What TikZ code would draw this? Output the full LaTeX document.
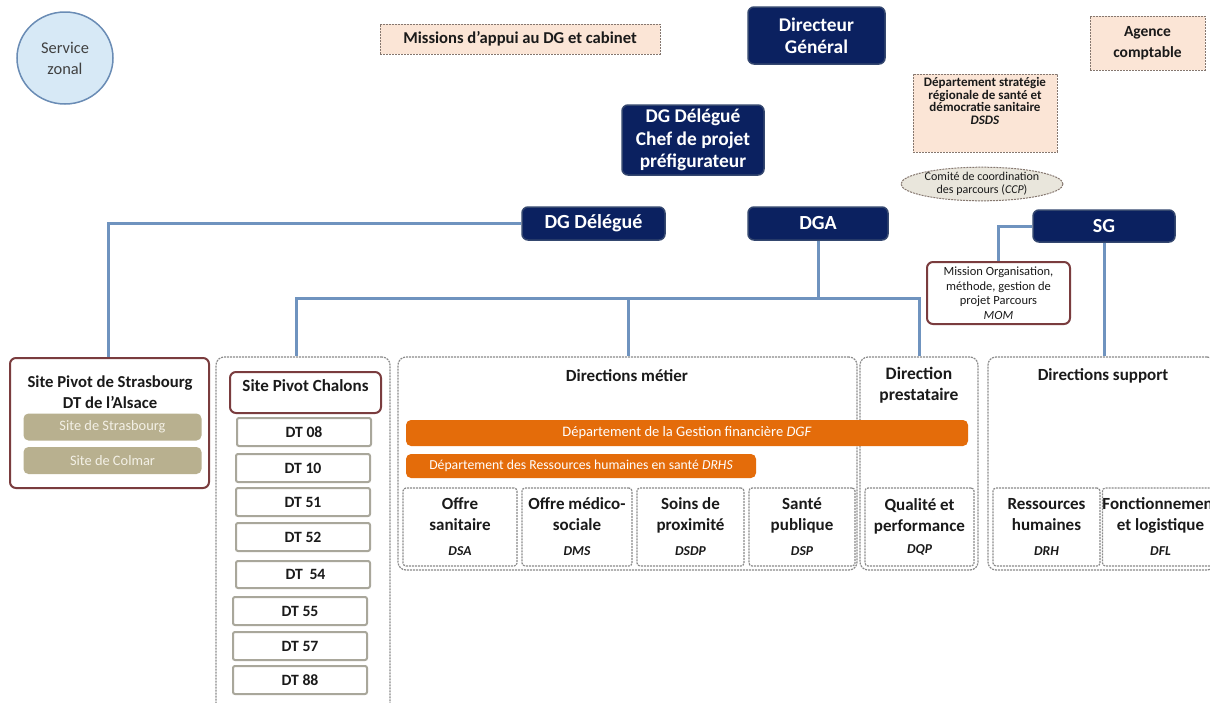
\documentclass[tikz,border=0pt]{standalone}
\usepackage{fontspec}
\setmainfont{Carlito}
\usetikzlibrary{shapes.geometric}
\definecolor{navy}{HTML}{0B2160}
\definecolor{navyb}{HTML}{34476F}
\definecolor{peach}{HTML}{FBE5D6}
\definecolor{peachb}{HTML}{85776F}
\definecolor{grayd}{HTML}{8A8A8A}
\definecolor{darkred}{HTML}{7A3C3E}
\definecolor{olivef}{HTML}{B8B08F}
\definecolor{olivet}{HTML}{F3F0E6}
\definecolor{orng}{HTML}{E46C0A}
\definecolor{dtgray}{HTML}{A9A79B}
\definecolor{connc}{HTML}{6F93BF}
\definecolor{szfill}{HTML}{D7E9F6}
\definecolor{szdraw}{HTML}{6A8CB5}
\definecolor{ccpfill}{HTML}{E9E6DC}
\definecolor{txt}{HTML}{1A1A1A}
\newcommand{\fs}[2]{\fontsize{#1}{#2}\selectfont}
\newcommand{\codetxt}[1]{{\bfseries\itshape\fs{13.6}{15}#1}}
\tikzset{
  navybox/.style={rounded corners=6pt, fill=navy, draw=navyb, line width=1.5pt, text=white, align=center, inner sep=0pt, font=\bfseries\fs{19.4}{22.5}},
  peachbox/.style={fill=peach, draw=peachb, dash pattern=on 2pt off 1pt, line width=1pt, align=center, inner sep=0pt, text=txt},
  groupbox/.style={draw=grayd, dash pattern=on 2pt off 1pt, line width=1.2pt, rounded corners=8pt, inner sep=0pt},
  subbox/.style={draw=grayd, dash pattern=on 2pt off 1pt, line width=1.2pt, rounded corners=3pt, align=center, inner sep=0pt, text=txt, font=\bfseries\fs{17}{20.5}},
  dtbox/.style={draw=dtgray, line width=2pt, rounded corners=2pt, fill=white, inner sep=0pt, text=txt, font=\bfseries\fs{15.7}{18}},
  redbox/.style={draw=darkred, line width=2pt, rounded corners=6pt, fill=white, inner sep=0pt, align=center, text=txt},
  olivebox/.style={fill=olivef, rounded corners=5pt, text=olivet, inner sep=0pt, font=\fs{14.4}{16}},
  orangebox/.style={fill=orng, rounded corners=5pt, text=white, inner sep=0pt},
  conn/.style={draw=connc, line width=3pt},
  titletext/.style={font=\bfseries\fs{17}{21}, text=txt, align=center, inner sep=0pt}
}
\begin{document}
\begin{tikzpicture}[x=1pt,y=-1pt]
\clip (0,0) rectangle (1210,702);
\fill[white] (0,0) rectangle (1210,702);

% top row
\node[ellipse, fill=szfill, draw=szdraw, line width=1.5pt, minimum width=96pt, minimum height=92pt, inner sep=0pt, align=center, text=black!75, font=\fs{16.4}{21}] (szonal) at (65,58) {Service\\zonal};
\node[peachbox, minimum width=280pt, minimum height=30pt, font=\bfseries\fs{16.6}{19}] (missions) at (520,39) {Missions d’appui au DG et cabinet};
\node[navybox, minimum width=137pt, minimum height=57pt, font=\bfseries\fs{19.4}{22}] (dg) at (816.5,35.5) {Directeur\\Général};
\node[peachbox, minimum width=115pt, minimum height=54pt, font=\bfseries\fs{15.5}{21}] (agence) at (1147.5,43) {Agence\\comptable};
\node[peachbox, minimum width=144pt, minimum height=78pt] (dsds) at (985,113) {};
\node[align=center, inner sep=0pt, text=txt, font=\bfseries\fs{13}{12.8}] (dsdstxt) at (985,101) {Département stratégie\\régionale de santé et\\démocratie sanitaire\\\textit{DSDS}};
\node[ellipse, fill=ccpfill, draw=peachb, dash pattern=on 2pt off 1pt, line width=1pt, minimum width=162pt, minimum height=32pt, inner sep=0pt, align=center, text=txt, font=\fs{12}{13.5}] (ccp) at (982,184) {Comité de coordination\\des parcours (\textit{CCP})};
\node[navybox, minimum width=142pt, minimum height=70pt, font=\bfseries\fs{19.4}{22.5}] (dgdcp) at (693,140) {DG Délégué\\Chef de projet\\préfigurateur};

% second level
\node[navybox, minimum width=143pt, minimum height=33pt, font=\bfseries\fs{20}{22}] (dgd) at (593.5,223.5) {DG Délégué};
\node[navybox, minimum width=140pt, minimum height=33pt, font=\bfseries\fs{20}{22}] (dga) at (818,223.5) {DGA};
\node[navybox, minimum width=142pt, minimum height=32pt, font=\bfseries\fs{20}{22}] (sg) at (1104,226) {SG};
\node[redbox, minimum width=143pt, minimum height=62pt, font=\fs{12.5}{14.5}] (mom) at (998.5,293) {Mission Organisation,\\méthode, gestion de\\projet Parcours\\\textit{MOM}};

% Strasbourg
\node[redbox, minimum width=199pt, minimum height=130pt] (strasbourg) at (109.5,423) {};
\node[titletext, font=\bfseries\fs{16.7}{21}] (strtitle) at (110,392.5) {Site Pivot de Strasbourg\\DT de l’Alsace};
\node[olivebox, minimum width=178pt, minimum height=27pt] (sitestr) at (112.5,427) {Site de Strasbourg};
\node[olivebox, minimum width=178pt, minimum height=27pt] (colmar) at (112.5,460.5) {Site de Colmar};

% Chalons column
\node[groupbox, minimum width=174pt, minimum height=360pt] (chalcol) at (303,537) {};
\node[redbox, minimum width=151pt, minimum height=41pt] (chalons) at (305.5,392.5) {};
\node[titletext] (chaltitle) at (305.5,386) {Site Pivot Chalons};
\node[dtbox, minimum width=134pt, minimum height=28pt] (dt08) at (304,432) {DT 08};
\node[dtbox, minimum width=134pt, minimum height=28pt] (dt10) at (303,468) {DT 10};
\node[dtbox, minimum width=134pt, minimum height=28pt] (dt51) at (303,502) {DT 51};
\node[dtbox, minimum width=134pt, minimum height=28pt] (dt52) at (303,537) {DT 52};
\node[dtbox, minimum width=134pt, minimum height=27pt] (dt54) at (303,574.5) {\hspace{5pt}DT\hspace{3pt} 54};
\node[dtbox, minimum width=134pt, minimum height=28pt] (dt55) at (300,611) {DT 55};
\node[dtbox, minimum width=134pt, minimum height=28pt] (dt57) at (300,646) {DT 57};
\node[dtbox, minimum width=134pt, minimum height=28pt] (dt88) at (300,680) {DT 88};

% Directions
\node[groupbox, minimum width=459pt, minimum height=213pt] (metier) at (627.5,463.5) {};
\node[titletext] (mettitle) at (627,376) {Directions métier};
\node[groupbox, minimum width=118pt, minimum height=213pt] (prest) at (919,463.5) {};
\node[titletext, font=\bfseries\fs{17.5}{21}] (prtitle) at (919,385) {Direction\\prestataire};
\node[groupbox, minimum width=227pt, minimum height=213pt] (support) at (1101.5,463.5) {};
\node[titletext] (suptitle) at (1103,376) {Directions support};

\node[orangebox, minimum width=562pt, minimum height=26pt, font=\fs{14.5}{16}] (dgf) at (687,433) {Département de la Gestion financière \textit{DGF}};
\node[orangebox, minimum width=350pt, minimum height=24pt, font=\fs{13.7}{16}] (drhs) at (581,466) {Département des Ressources humaines en santé \textit{DRHS}};

\node[subbox, minimum width=114pt, minimum height=78pt] (dsa) at (460,527) {Offre\\sanitaire\\[5pt]\codetxt{DSA}};
\node[subbox, minimum width=110pt, minimum height=78pt] (dms) at (577,527) {Offre médico-\\sociale\\[5pt]\codetxt{DMS}};
\node[subbox, minimum width=107pt, minimum height=78pt] (dsdp) at (690.5,527) {Soins de\\proximité\\[5pt]\codetxt{DSDP}};
\node[subbox, minimum width=106pt, minimum height=78pt] (dsp) at (802,527) {Santé\\publique\\[5pt]\codetxt{DSP}};
\node[subbox, minimum width=109pt, minimum height=78pt] (dqp) at (919.5,527) {Qualité et\\performance\\[2pt]\codetxt{DQP}};
\node[subbox, minimum width=107pt, minimum height=78pt] (drh) at (1046.5,527) {Ressources\\humaines\\[5pt]\codetxt{DRH}};
\node[subbox, minimum width=109pt, minimum height=78pt] (dfl) at (1160.5,527) {Fonctionnement\\et logistique\\[5pt]\codetxt{DFL}};

% connectors
\coordinate (busL) at (296,298);
\coordinate (busM) at (628,298);
\coordinate (busR) at (919,298);
\coordinate (strdrop) at (108,0);
\draw[conn] (dgd.west) -| (strdrop |- strasbourg.north);
\draw[conn] (dga.south) -- (dga.south |- busR);
\draw[conn] (busL |- chalcol.north) -- (busL) -- (busR) -- (prest.north);
\draw[conn] (busM) -- (busM |- metier.north);
\draw[conn] (sg.west) -| (mom.north);
\draw[conn] (sg.south) -- (sg.south |- support.north);
\end{tikzpicture}
\end{document}
